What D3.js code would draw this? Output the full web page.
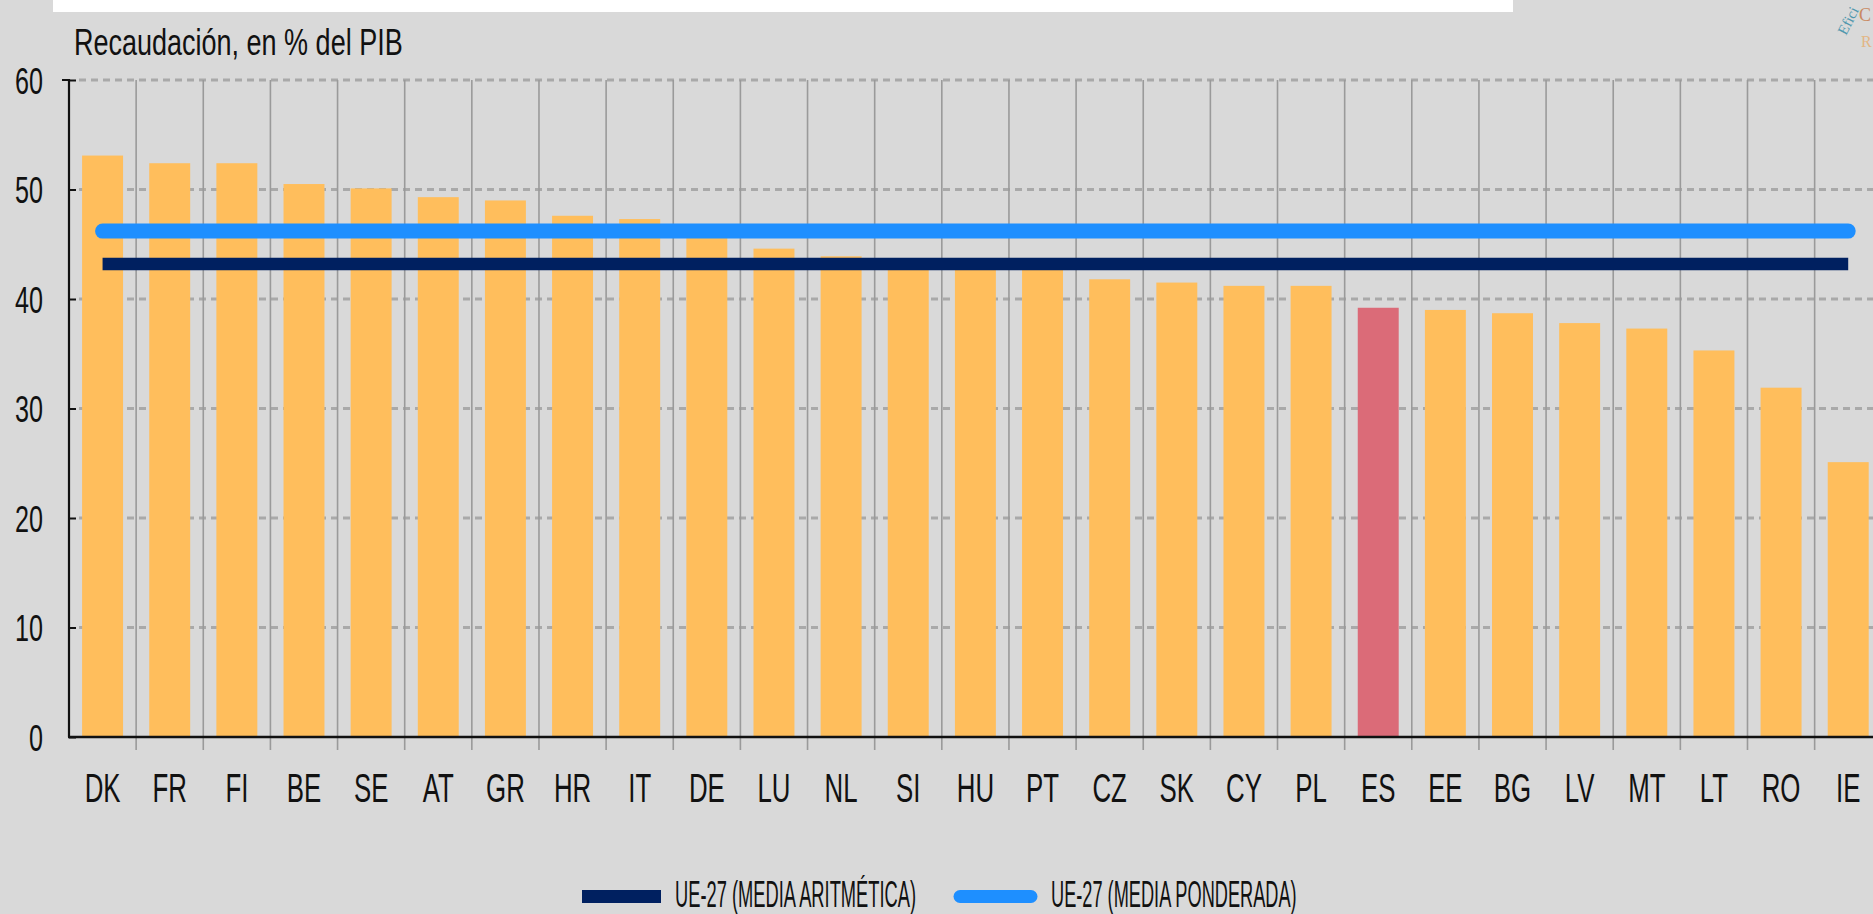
<!DOCTYPE html>
<html>
<head>
<meta charset="utf-8">
<script src="https://cdn.jsdelivr.net/npm/d3@7"></script>
<style>
  body { margin: 0; background: #d9d9d9; }
  svg { display: block; }
</style>
</head>
<body>
<div id="chart"></div>
<script>
const countries = ["DK", "FR", "FI", "BE", "SE", "AT", "GR", "HR", "IT", "DE", "LU", "NL", "SI", "HU",
  "PT", "CZ", "SK", "CY", "PL", "ES", "EE", "BG", "LV", "MT", "LT", "RO", "IE"];
const recaudacion = [53.1, 52.4, 52.4, 50.5, 50.1, 49.3, 49.0, 47.6, 47.3, 46.3, 44.6, 43.9, 43.6, 43.4,
  43.2, 41.8, 41.5, 41.2, 41.2, 39.2, 39.0, 38.7, 37.8, 37.3, 35.3, 31.9, 25.1];
const highlight = "ES";
const yTicks = [0, 10, 20, 30, 40, 50, 60];
const mediaAritmetica = 43.2;
const mediaPonderada = 46.2;
const legendLabels = ["UE-27 (MEDIA ARITMÉTICA)", "UE-27 (MEDIA PONDERADA)"];
const titleText = "Recaudación, en % del PIB";

const data = countries.map((c, i) => ({country: c, value: recaudacion[i]}));

const width = 1873, height = 914;
const margins = {top: 80, left: 69, bottom: 177};
const step = 67.14;
const font = "'Liberation Sans', Arial, sans-serif";

const svg = d3.select("#chart")
  .append("svg")
  .attr("width", width)
  .attr("height", height)
  .attr("viewBox", [0, 0, width, height]);

svg.append("rect")
  .attr("width", width)
  .attr("height", height)
  .attr("fill", "#d9d9d9");

// white strip at the very top
svg.append("rect")
  .attr("x", 53)
  .attr("y", 0)
  .attr("width", 1460)
  .attr("height", 12)
  .attr("fill", "#ffffff");

const xScale = d3.scaleBand()
  .domain(countries)
  .range([margins.left, margins.left + countries.length * step])
  .paddingInner(0.39)
  .paddingOuter(0.195);

const yScale = d3.scaleLinear()
  .domain([0, 60])
  .range([height - margins.bottom, margins.top]);

const xStart = margins.left, xEnd = margins.left + countries.length * step;

// dashed horizontal grid
svg.append("g")
  .selectAll("line")
  .data(yTicks.filter(d => d > 0))
  .join("line")
    .attr("x1", xStart + 10)
    .attr("x2", xEnd)
    .attr("y1", d => yScale(d))
    .attr("y2", d => yScale(d))
    .attr("stroke", "#a9a9a9")
    .attr("stroke-width", 3)
    .attr("stroke-dasharray", "7,5");

// vertical separators at band boundaries
const bounds = d3.range(1, countries.length + 1).map(i => xStart + i * xScale.step());
svg.append("g")
  .selectAll("line")
  .data(bounds)
  .join("line")
    .attr("x1", d => d)
    .attr("x2", d => d)
    .attr("y1", yScale(60))
    .attr("y2", yScale(0) + 13)
    .attr("stroke", "#9a9a9a")
    .attr("stroke-width", 1.6);

svg.append("g")
  .selectAll("rect")
  .data(data)
  .join("rect")
    .attr("x", d => xScale(d.country))
    .attr("y", d => yScale(d.value))
    .attr("width", xScale.bandwidth())
    .attr("height", d => yScale(0) - yScale(d.value))
    .attr("fill", d => d.country == highlight ? "#db6b78" : "#ffbe5c");

// y axis
const yAxis = d3.axisLeft(yScale)
  .tickValues(yTicks)
  .tickSize(-7)
  .tickPadding(0);

const yGroup = svg.append("g")
  .attr("transform", `translate(${xStart},0)`)
  .call(yAxis)
  .call(g => g.select(".domain").attr("stroke", "#111").attr("stroke-width", 2.2).attr("d", `M-7,${yScale(60)}H0V${yScale(0)}`))
  .call(g => g.selectAll(".tick line").attr("stroke", "#111").attr("stroke-width", 2));

yGroup.selectAll("text")
  .attr("x", 0)
  .attr("dy", null)
  .attr("transform", "translate(-26,13) scale(0.68,1)")
  .style("font-family", font)
  .style("font-size", "37px")
  .attr("fill", "#111");

// x axis labels
const xAxis = d3.axisBottom(xScale).tickSize(0);
const xGroup = svg.append("g")
  .attr("transform", `translate(0,${yScale(0)})`)
  .call(xAxis)
  .call(g => g.select(".domain").remove());

xGroup.selectAll("text")
  .attr("y", 0)
  .attr("dy", null)
  .attr("transform", "translate(0,65) scale(0.63,1)")
  .style("font-family", font)
  .style("font-size", "41px")
  .attr("fill", "#111");

svg.append("line")
  .attr("x1", xStart - 1)
  .attr("x2", width)
  .attr("y1", yScale(0))
  .attr("y2", yScale(0))
  .attr("stroke", "#111")
  .attr("stroke-width", 2.4);

// EU averages
const xMid = d => xScale(d) + xScale.bandwidth() / 2;
svg.append("line")
  .attr("x1", xMid(countries[0]))
  .attr("x2", xMid(countries[countries.length - 1]))
  .attr("y1", yScale(mediaAritmetica))
  .attr("y2", yScale(mediaAritmetica))
  .attr("stroke", "#002060")
  .attr("stroke-width", 12.5);

svg.append("line")
  .attr("x1", xMid(countries[0]))
  .attr("x2", xMid(countries[countries.length - 1]))
  .attr("y1", yScale(mediaPonderada))
  .attr("y2", yScale(mediaPonderada))
  .attr("stroke", "#1e8fff")
  .attr("stroke-width", 15)
  .attr("stroke-linecap", "round");

// title
svg.append("text")
  .attr("transform", "translate(74,55) scale(0.73,1)")
  .style("font-family", font)
  .style("font-size", "37px")
  .attr("fill", "#111")
  .text(titleText);

// legend (narrow, squeezed type)
const legend = svg.append("g");
legend.append("line")
  .attr("x1", 582).attr("x2", 661)
  .attr("y1", 896.5).attr("y2", 896.5)
  .attr("stroke", "#002060")
  .attr("stroke-width", 13);
legend.append("text")
  .attr("transform", "translate(675,907) scale(0.495,1)")
  .style("font-family", font)
  .style("font-size", "37px")
  .attr("fill", "#111")
  .text(legendLabels[0]);
legend.append("line")
  .attr("x1", 960).attr("x2", 1031)
  .attr("y1", 896.5).attr("y2", 896.5)
  .attr("stroke", "#1e8fff")
  .attr("stroke-width", 13)
  .attr("stroke-linecap", "round");
legend.append("text")
  .attr("transform", "translate(1051,907) scale(0.492,1)")
  .style("font-family", font)
  .style("font-size", "37px")
  .attr("fill", "#111")
  .text(legendLabels[1]);

// watermark fragment, top right
const mark = svg.append("g").style("font-family", "'Liberation Serif', serif");
mark.append("text")
  .attr("transform", "translate(1846,36) rotate(-63)")
  .style("font-size", "15px")
  .attr("fill", "#4f97ae")
  .text("Efici");
mark.append("text")
  .attr("x", 1859).attr("y", 21)
  .style("font-size", "18px")
  .attr("fill", "#c98a62")
  .text("C");
mark.append("text")
  .attr("x", 1861).attr("y", 47)
  .style("font-size", "16px")
  .attr("fill", "#e3b685")
  .text("R");
</script>
</body>
</html>
